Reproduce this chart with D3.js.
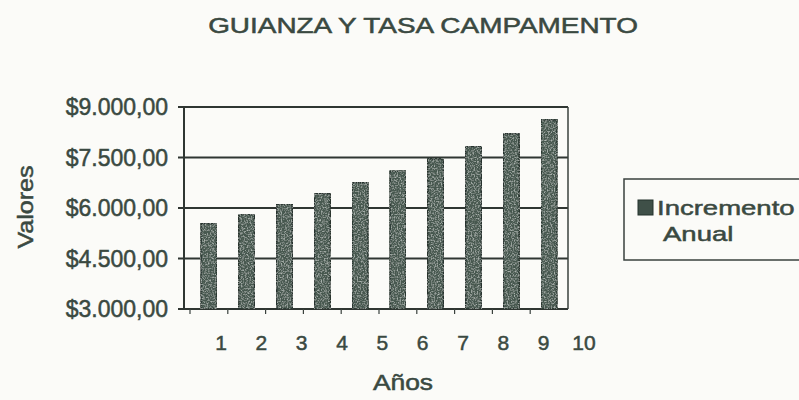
<!DOCTYPE html>
<html>
<head>
<meta charset="utf-8">
<script src="https://cdnjs.cloudflare.com/ajax/libs/d3/7.8.5/d3.min.js"></script>
<style>
  body { margin: 0; background: #fbfbf8; }
  text { font-family: "Liberation Sans", Arial, sans-serif; fill: #3a4941; stroke: #3a4941; stroke-width: 0.5px; }
</style>
</head>
<body>
<script>
// data
var anios = ["1", "2", "3", "4", "5", "6", "7", "8", "9", "10"];
var valores = [5545, 5820, 6115, 6430, 6760, 7100, 7460, 7830, 8210, 8620];
var yTicks = [3000, 4500, 6000, 7500, 9000];
var titulo = "GUIANZA Y TASA CAMPAMENTO";
var serie = ["Incremento", "Anual"];

var width = 799, height = 400;
var plot = {left: 184, right: 568, top: 107, bottom: 309};

var svg = d3.select("body").append("svg")
    .attr("width", width)
    .attr("height", height);

// speckled fill like the printed bars
var grain = svg.append("defs").append("filter")
    .attr("id", "grain")
    .attr("x", 0).attr("y", 0).attr("width", "100%").attr("height", "100%");
grain.append("feTurbulence")
    .attr("type", "fractalNoise")
    .attr("baseFrequency", 0.7)
    .attr("numOctaves", 2)
    .attr("seed", 4)
    .attr("result", "noise");
grain.append("feColorMatrix")
    .attr("in", "noise")
    .attr("type", "matrix")
    .attr("values", "0 0 0 0 0.6  0 0 0 0 0.65  0 0 0 0 0.62  1.8 0 0 0 -0.82")
    .attr("result", "spk");
grain.append("feComposite")
    .attr("in", "spk").attr("in2", "SourceGraphic")
    .attr("operator", "in")
    .attr("result", "spk2");
var merge = grain.append("feMerge");
merge.append("feMergeNode").attr("in", "SourceGraphic");
merge.append("feMergeNode").attr("in", "spk2");

// scales
var yScale = d3.scaleLinear()
    .domain([3000, 9000])
    .range([plot.bottom, plot.top]);

var xScale = d3.scaleBand()
    .domain(anios)
    .range([plot.left + 6, plot.right])
    .paddingInner(0.58)
    .paddingOuter(0.29);

// labels sit a bit to the right of the bars in the scan
var xLabel = d3.scalePoint()
    .domain(anios)
    .range([221, 584]);

var fmt = function (v) {
  var s = d3.format(",.2f")(v);
  return "$" + s.replace(/,/g, "#").replace(".", ",").replace(/#/g, ".");
};

// title
svg.append("text")
    .attr("transform", "translate(423,33) scale(1.27,1)")
    .attr("text-anchor", "middle")
    .style("font-size", "22px")
    .text(titulo);

// gridlines
svg.append("g")
    .selectAll("line")
    .data(yTicks)
    .enter().append("line")
    .attr("x1", plot.left - 6)
    .attr("x2", plot.right)
    .attr("y1", function (d) { return yScale(d); })
    .attr("y2", function (d) { return yScale(d); })
    .attr("stroke", "#2f3632")
    .attr("stroke-width", 2);

// frame
svg.append("line")
    .attr("x1", plot.left).attr("x2", plot.left)
    .attr("y1", plot.top).attr("y2", plot.bottom)
    .attr("stroke", "#2f3632").attr("stroke-width", 2);
svg.append("line")
    .attr("x1", plot.right).attr("x2", plot.right)
    .attr("y1", plot.top).attr("y2", plot.bottom)
    .attr("stroke", "#3a423e").attr("stroke-width", 1.5);

// x tick marks between the bars
svg.append("g")
    .selectAll("line")
    .data(anios)
    .enter().append("line")
    .attr("x1", function (d) { return xScale(d) - xScale.step() * 0.29; })
    .attr("x2", function (d) { return xScale(d) - xScale.step() * 0.29; })
    .attr("y1", plot.bottom)
    .attr("y2", plot.bottom + 5)
    .attr("stroke", "#3a423e")
    .attr("stroke-width", 1.2);

// y labels
svg.append("g")
    .selectAll("text")
    .data(yTicks)
    .enter().append("text")
    .attr("x", 168)
    .attr("y", function (d) { return yScale(d) + 8; })
    .attr("text-anchor", "end")
    .style("font-size", "23px")
    .text(fmt);

// bars
svg.append("g")
    .selectAll("rect")
    .data(valores)
    .enter().append("rect")
    .attr("x", function (d, i) { return xScale(anios[i]); })
    .attr("y", function (d) { return yScale(d); })
    .attr("width", xScale.bandwidth())
    .attr("height", function (d) { return yScale(3000) - yScale(d); })
    .attr("fill", "#475850")
    .attr("stroke", "#25332d")
    .attr("stroke-width", 1.5)
    .attr("filter", "url(#grain)");

// x labels
svg.append("g")
    .selectAll("text")
    .data(anios)
    .enter().append("text")
    .attr("x", function (d) { return xLabel(d); })
    .attr("y", 350)
    .attr("text-anchor", "middle")
    .style("font-size", "21px")
    .text(function (d) { return d; });

// axis titles
svg.append("text")
    .attr("transform", "translate(403,390) scale(1.2,1)")
    .attr("text-anchor", "middle")
    .style("font-size", "22px")
    .text("Años");

svg.append("text")
    .attr("transform", "translate(33,207) rotate(-90) scale(1.14,1)")
    .attr("text-anchor", "middle")
    .style("font-size", "22px")
    .text("Valores");

// legend
var legend = svg.append("g");
legend.append("rect")
    .attr("x", 624).attr("y", 179)
    .attr("width", 190).attr("height", 81)
    .attr("fill", "none")
    .attr("stroke", "#3a423e")
    .attr("stroke-width", 1.5);
legend.append("rect")
    .attr("x", 638).attr("y", 200)
    .attr("width", 15).attr("height", 15)
    .attr("fill", "#3f5048")
    .attr("stroke", "#25332d");
legend.selectAll("text.leg")
    .data(serie)
    .enter().append("text")
    .attr("class", "leg")
    .attr("transform", function (d, i) { return i === 0 ? "translate(657,215) scale(1.31,1)" : "translate(663,241) scale(1.31,1)"; })
    .style("font-size", "21px")
    .text(function (d) { return d; });
</script>
</body>
</html>
